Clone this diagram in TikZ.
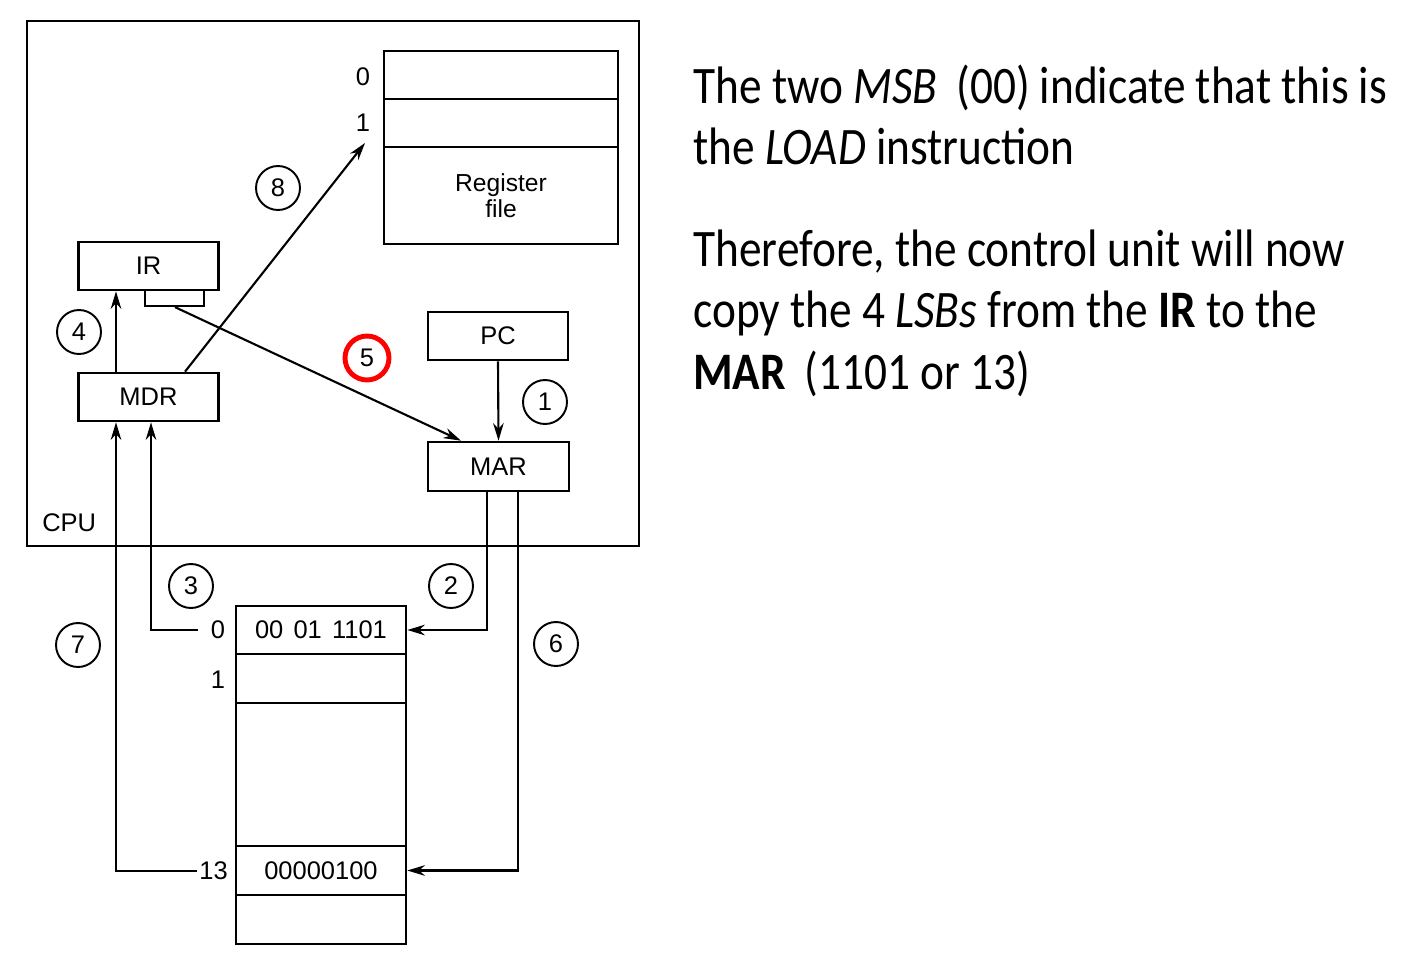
\documentclass[tikz,border=0pt]{standalone}
\usepackage{fontspec}
\setmainfont{Liberation Sans}
\newfontfamily\calib[FakeStretch=0.86]{Carlito}
\usetikzlibrary{arrows.meta}
\begin{document}
\begin{tikzpicture}[x=0.02cm,y=-0.02cm,
  dfont/.style={font=\fontsize{14.5}{15.5}\selectfont},
  box/.style={draw, line width=1.5pt, minimum width=2.8cm, minimum height=0.96cm, inner sep=0pt, dfont},
  cell/.style={draw, line width=1.5pt, inner sep=0pt, dfont},
  num/.style={draw, circle, line width=1.1pt, minimum size=0.88cm, inner sep=0pt, dfont},
  conn/.style={line width=1.2pt, -{Stealth[length=10pt,width=6pt]}},
  lbl/.style={inner sep=0pt, dfont},
  rtext/.style={anchor=base west, inner sep=0pt, font=\calib\fontsize{30}{36}\selectfont}
]
\useasboundingbox (0,0) rectangle (1418,967);
% CPU box
\node[draw, line width=1.5pt, minimum width=12.24cm, minimum height=10.5cm, inner sep=0pt] (cpu) at (333,283.5) {};
\node[lbl, anchor=west] (cpulbl) at (42,523) {CPU};
% register file
\node[cell, minimum width=4.68cm, minimum height=0.96cm] (r0) at (501,75) {};
\node[cell, minimum width=4.68cm, minimum height=0.96cm] (r1) at (501,123) {};
\node[cell, minimum width=4.68cm, minimum height=1.94cm, align=center, font=\fontsize{14}{14.5}\selectfont] (rf) at (501,195.5) {Register\\file};
\node[lbl] (r0l) at (363,77) {0};
\node[lbl] (r1l) at (363,123) {1};
\coordinate (r1pt) at (365,143);
% registers
\node[box] (ir) at (148.5,266) {IR};
\node[draw, line width=1.3pt, minimum width=1.18cm, minimum height=0.32cm, inner sep=0pt] (tab) at (174.5,298) {};
\node[box] (mdr) at (148.5,397) {MDR};
\node[box] (pc) at (498,336) {PC};
\node[box, minimum width=2.82cm, minimum height=0.98cm] (mar) at (498.5,466.5) {MAR};
% memory
\node[cell, minimum width=3.4cm, minimum height=0.96cm] (m0) at (321,630) {00\hspace{0.4em}01\hspace{0.4em}1101};
\node[cell, minimum width=3.4cm, minimum height=0.98cm] (m1) at (321,678.5) {};
\node[cell, minimum width=3.4cm, minimum height=2.86cm] (mgap) at (321,774.5) {};
\node[cell, minimum width=3.4cm, minimum height=0.98cm] (m13) at (321,870.5) {00000100};
\node[cell, minimum width=3.4cm, minimum height=0.98cm] (mlast) at (321,919.5) {};
\node[lbl] (m0l) at (218,630) {0};
\node[lbl] (m1l) at (218,680) {1};
\node[lbl, anchor=west] (m13l) at (199,871) {13};
% step numbers
\node[num] (n8) at (278,188) {8};
\node[num] (n4) at (79,332) {4};
\node[num, draw=red, line width=2.8pt, minimum size=0.88cm] (n5) at (367,358) {5};
\node[num] (n1) at (545,402) {1};
\node[num] (n3) at (191,586) {3};
\node[num] (n2) at (451,586) {2};
\node[num] (n7) at (78,645) {7};
\node[num] (n6) at (556,644) {6};
% connectors
\draw[conn] (185,0 |- mdr.north) -- (r1pt);
\draw[conn] (116,0 |- mdr.north) -- (116,0 |- ir.south);
\draw[conn] (175,0 |- tab.south) -- (461,0 |- mar.north);
\draw[conn] (pc.south) -- (mar.north);
\draw[conn] (487,0 |- mar.south) |- (m0.east);
\draw[conn] (518,0 |- mar.south) |- (m13.east);
\draw[conn] ([xshift=-0.26cm]m0l.west) -| (151,0 |- mdr.south);
\draw[conn] ([xshift=-0.04cm]m13l.west) -| (116,0 |- mdr.south);
% explanation text
\node[rtext] (t1) at (693,103) {The two \textit{MSB}\, (00) indicate that this is};
\node[rtext] (t2) at (693,164) {the \textit{LOAD} instruction};
\node[rtext] (t3) at (693,266) {Therefore, the control unit will now};
\node[rtext] (t4) at (693,327) {copy the 4 \textit{LSBs} from the \textbf{IR} to the};
\node[rtext] (t5) at (693,389) {\textbf{MAR}\, (1101 or 13)};
\end{tikzpicture}
\end{document}
